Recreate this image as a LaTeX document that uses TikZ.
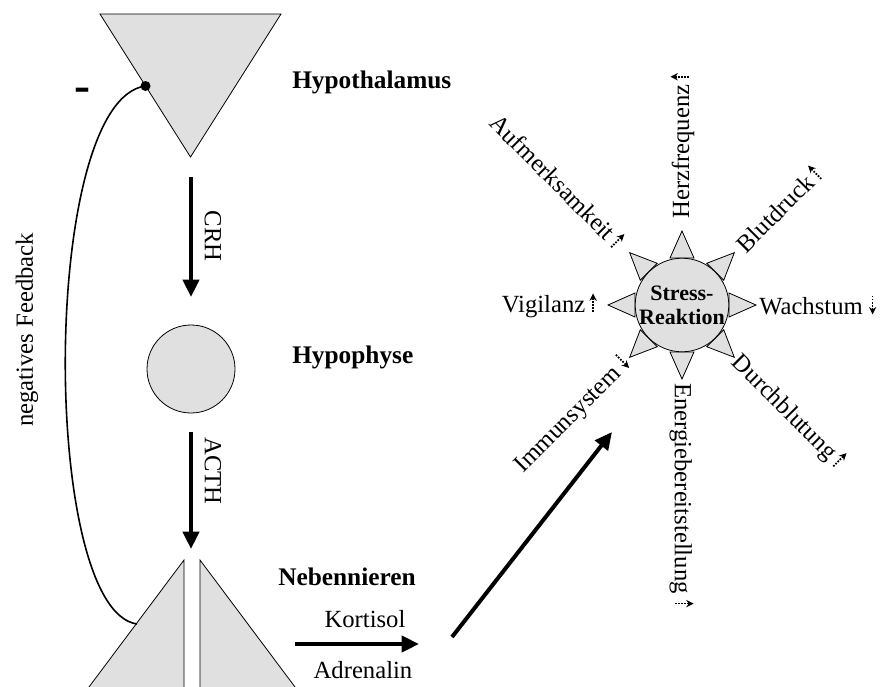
\documentclass[tikz,border=0pt]{standalone}
\usepackage{fontspec}
\setmainfont{Liberation Serif}
\usetikzlibrary{arrows.meta}
\definecolor{organgray}{RGB}{224,224,224}
\newcommand{\upar}{\tikz[baseline=0pt]\draw[densely dotted,line width=1.3pt,-{Stealth[length=5.5pt,width=5.5pt]}] (0pt,0pt) -- (0pt,14pt);}
\newcommand{\downar}{\tikz[baseline=0pt]\draw[densely dotted,line width=1.3pt,-{Stealth[length=5.5pt,width=5.5pt]}] (0pt,14pt) -- (0pt,0pt);}
\begin{document}
\begin{tikzpicture}[x=0.75pt,y=0.75pt,
  font=\fontsize{18.5}{21}\selectfont,
  organ/.style={fill=organgray, draw=black, line width=0.6pt},
  bigarrow/.style={line width=3pt, -{Triangle[length=13pt,width=12pt]}},
  title/.style={font=\fontsize{19}{21}\selectfont\bfseries, anchor=west, inner sep=0pt},
  lab/.style={inner sep=0pt},
  ray/.style={inner sep=0pt, anchor=west}]
\useasboundingbox (0,0) rectangle (889,-686);
\clip (0,0) rectangle (889,-686);

% Hypothalamus
\coordinate (h1) at (100,-14);
\coordinate (h2) at (281,-14);
\coordinate (h3) at (190.5,-157);
\draw[organ] (h1) -- (h2) -- (h3) -- cycle;
\node[title] (hyth) at (292,-82) {Hypothalamus};

% Hypophyse
\node[circle, organ, minimum size=66pt, inner sep=0pt] (hypo) at (191,-369) {};
\node[title] (hypol) at (292,-357) {Hypophyse};

% CRH arrow
\coordinate (crhs) at (191,-177);
\coordinate (crhe) at (191,-297);
\draw[bigarrow] (crhs) -- (crhe);
\node[lab, rotate=-90] (crh) at (213,-236) {CRH};

% ACTH arrow
\coordinate (acths) at (191,-432);
\coordinate (acthe) at (191,-549);
\draw[bigarrow] (acths) -- (acthe);
\node[lab, rotate=-90] (acth) at (213,-471) {ACTH};

% Nebennieren
\coordinate (nl1) at (184,-560);
\coordinate (nr1) at (200,-560);
\draw[organ] (nl1) -- (184,-695) -- (83,-695) -- cycle;
\draw[organ] (nr1) -- (200,-695) -- (301,-695) -- cycle;
\node[title] (neb) at (278,-577) {Nebennieren};

% feedback
\coordinate (fbend) at (137,-624);
\node[circle, fill=black, minimum size=7.5pt, inner sep=0pt] (dot) at (145.5,-86) {};
\draw[line width=1.2pt] (dot.center) .. controls (40,-100) and (40,-610) .. (fbend);
\node[lab, font=\fontsize{36}{38}\selectfont\bfseries] (minus) at (82,-95) {-};
\node[lab, rotate=90] (fb) at (27,-330) {negatives Feedback};

% Kortisol / Adrenalin
\node[lab] (kort) at (365,-619) {Kortisol};
\node[lab] (adr) at (363,-670) {Adrenalin};
\coordinate (ka1) at (295,-644);
\coordinate (ka2) at (419,-644);
\draw[bigarrow] (ka1) -- (ka2);
\coordinate (da1) at (452,-637);
\coordinate (da2) at (612,-432);
\draw[bigarrow] (da1) -- (da2);

% Stress reaction
\coordinate (S) at (682,-305);
\foreach \a in {0,45,...,315}{
  \begin{scope}[shift={(S)}, rotate=\a]
    \draw[organ] (74,0) -- (47,12) -- (47,-12) -- cycle;
  \end{scope}
}
\node[circle, organ, minimum size=64.5pt, inner sep=0pt, align=center,
  font=\fontsize{16.5}{18}\selectfont\bfseries] (stress) at (S) {Stress-\\Reaktion};

\node[ray, rotate=90] (herz) at ([shift={(90:86)}]S) {Herzfrequenz\,\upar};
\node[ray, rotate=45] (blut) at ([shift={(45:81)}]S) {Blutdruck\,\upar};
\node[ray] (wachs) at ([shift={(0:77)}]S) {Wachstum\ \downar};
\node[ray, rotate=-45] (durch) at ([shift={(-45:76)}]S) {Durchblutung\,\upar};
\node[ray, rotate=-90] (energ) at ([shift={(-90:78)}]S) {Energiebereitstellung\ \upar};
\node[inner sep=0pt, anchor=east, rotate=45] (immun) at ([shift={(225:78)}]S) {Immunsystem\ \downar};
\node[inner sep=0pt, anchor=east] (vigil) at ([shift={(180:85)}]S) {Vigilanz\,\upar};
\node[inner sep=0pt, anchor=east, rotate=-45] (aufm) at ([shift={(135:87)}]S) {Aufmerksamkeit\,\upar};
\end{tikzpicture}
\end{document}
